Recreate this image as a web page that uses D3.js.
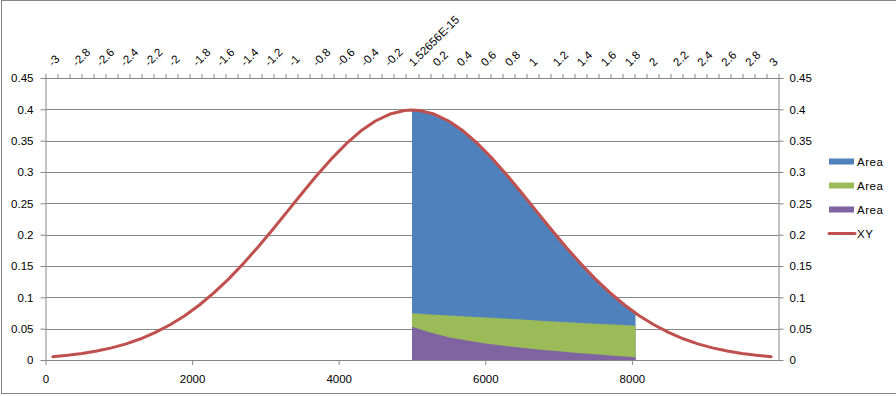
<!DOCTYPE html>
<html lang="en">
<head>
	<meta charset="UTF-8">
	<title>Normal curve with areas</title>
	<script src="https://cdnjs.cloudflare.com/ajax/libs/d3/7.8.5/d3.min.js"></script>
	<style>
		*{
			padding: 0;
			margin: 0;
		}
		body{
			background: #fff;
		}
		text{
			font-family: "Liberation Sans", Arial, sans-serif;
			font-size: 11.5px;
			fill: #000;
		}
		.grid line{
			stroke: #868686;
			stroke-width: 1;
		}
		.axis path,.axis line{
			stroke: #868686;
			stroke-width: 1;
			fill: none;
		}
	</style>
</head>
<body>
	<div id="container"></div>
<script>
	// XY series (bottom value axis)
	var lineX=[100,300,500,700,900,1100,1300,1500,1700,1900,2100,2300,2500,2700,2900,3100,3300,3500,3700,3900,4100,4300,4500,4700,4900,
		5000,5100,5300,5500,5700,5900,6100,6300,6500,6700,6900,7100,7300,7500,7700,7900,8100,8300,8500,8700,8900,9100,9300,9500,9700,9900]
	var lineY=[0.0053,0.0075,0.0104,0.0143,0.0194,0.0258,0.0339,0.0440,0.0562,0.0707,0.0878,0.1074,0.1295,0.1540,0.1804,0.2083,0.2371,0.2661,0.2943,0.3209,0.3448,0.3653,0.3814,0.3925,0.3982,
		0.3989,0.3982,0.3925,0.3814,0.3653,0.3448,0.3209,0.2943,0.2661,0.2371,0.2083,0.1804,0.1540,0.1295,0.1074,0.0878,0.0707,0.0562,0.0440,0.0339,0.0258,0.0194,0.0143,0.0104,0.0075,0.0053]

	// the three area series
	var areaX=[5000,5250,5500,5750,6000,6250,6500,6750,7000,7250,7500,7750,8000,8050]
	var blueArea=[0.3989,0.3945,0.3814,0.3605,0.3332,0.3011,0.2661,0.2299,0.1942,0.1604,0.1295,0.1023,0.0790,0.0748]
	var greenArea=[0.0745,0.0728,0.0712,0.0696,0.0680,0.0663,0.0645,0.0627,0.0610,0.0595,0.0580,0.0565,0.0551,0.0545]
	var purpleArea=[0.0530,0.0440,0.0365,0.0310,0.0265,0.0228,0.0195,0.0165,0.0138,0.0113,0.0090,0.0068,0.0047,0.0042]

	// tick labels
	var topLabels=['-3','-2.8','-2.6','-2.4','-2.2','-2','-1.8','-1.6','-1.4','-1.2','-1','-0.8','-0.6','-0.4','-0.2',
		'1.52656E-15','0.2','0.4','0.6','0.8','1','1.2','1.4','1.6','1.8','2','2.2','2.4','2.6','2.8','3']
	var bottomTicks=[0,2000,4000,6000,8000]
	var yTicks=[0,0.05,0.1,0.15,0.2,0.25,0.3,0.35,0.4,0.45]
	var legendNames=['Area','Area','Area','XY']

	var colors=['#4f81bd','#9bbb59','#8064a2','#c0504d']

	var width=896,
	height=396,
	margin={left:45.5,top:78,right:117.5,bottom:36},
	g_width=width-margin.left-margin.right,
	g_height=height-margin.top-margin.bottom

	var svg=d3.select('#container')
	.append('svg')
	.attr('width',width)
	.attr('height',height)

	// chart frame
	svg.append('rect')
	.attr('x',1.5)
	.attr('y',0.5)
	.attr('width',width+10)
	.attr('height',393)
	.attr('fill','none')
	.attr('stroke','#868686')

	var g=svg.append('g')
	.attr('transform','translate('+margin.left+','+margin.top+')')

	var scale_x=d3.scaleLinear()
	.domain([0,10000])
	.range([0,g_width])
	var scale_y=d3.scaleLinear()
	.domain([0,0.45])
	.range([g_height,0])
	var scale_top=d3.scaleBand()
	.domain(d3.range(topLabels.length*2-1))
	.range([0,g_width])

	// gridlines
	g.append('g')
	.attr('class','grid')
	.selectAll('line')
	.data(yTicks)
	.enter().append('line')
	.attr('x1',0)
	.attr('x2',g_width)
	.attr('y1',function(d){return Math.round(scale_y(d))+0.5})
	.attr('y2',function(d){return Math.round(scale_y(d))+0.5})

	// areas, back to front
	var areaSeries=[blueArea,greenArea,purpleArea]
	areaSeries.forEach(function(vals,k){
		var area_generator=d3.area()
		.x(function(d,i){return scale_x(areaX[i])})
		.y0(scale_y(0))
		.y1(function(d){return scale_y(d)})
		g.append('path')
		.attr('d',area_generator(vals))
		.attr('fill',colors[k])
	})

	// XY line
	var line_generator=d3.line()
	.x(function(d,i){return scale_x(lineX[i])})
	.y(function(d){return scale_y(d)})
	g.append('path')
	.attr('d',line_generator(lineY))
	.attr('fill','none')
	.attr('stroke',colors[3])
	.attr('stroke-width',3)
	.attr('stroke-linejoin','round')
	.attr('stroke-linecap','round')

	// axes
	var fmt=d3.format('')
	g.append('g')
	.attr('class','axis')
	.call(d3.axisLeft(scale_y).tickValues(yTicks).tickFormat(fmt).tickSize(5).tickSizeOuter(0).tickPadding(7))

	g.append('g')
	.attr('class','axis')
	.attr('transform','translate('+g_width+',0)')
	.call(d3.axisRight(scale_y).tickValues(yTicks).tickFormat(fmt).tickSize(5).tickSizeOuter(0).tickPadding(6))

	g.append('g')
	.attr('class','axis')
	.attr('transform','translate(0,'+g_height+')')
	.call(d3.axisBottom(scale_x).tickValues(bottomTicks).tickFormat(fmt).tickSize(5).tickSizeOuter(0).tickPadding(10))

	// top category axis: ticks between categories, every second label shown
	var top_axis=g.append('g').attr('class','axis')
	top_axis.append('line')
	.attr('x1',0)
	.attr('x2',g_width)
	.attr('y1',0.5)
	.attr('y2',0.5)
	var bounds=scale_top.domain().map(function(d){return scale_top(d)}).concat([g_width])
	top_axis.selectAll('line.tick')
	.data(bounds)
	.enter().append('line')
	.attr('class','tick')
	.attr('x1',function(d){return Math.round(d)+0.5})
	.attr('x2',function(d){return Math.round(d)+0.5})
	.attr('y1',0)
	.attr('y2',-4)
	top_axis.selectAll('text')
	.data(topLabels)
	.enter().append('text')
	.text(function(d){return d})
	.attr('text-anchor','start')
	.attr('transform',function(d,i){
		var x=scale_top(i*2)+scale_top.bandwidth()/2
		return 'translate('+(x+1.5)+',-11) rotate(-45)'
	})

	// legend
	var legend=svg.append('g')
	.attr('transform','translate(828,161.5)')
	var item=legend.selectAll('g')
	.data(legendNames)
	.enter().append('g')
	.attr('transform',function(d,i){return 'translate(0,'+(i*24)+')'})
	item.filter(function(d,i){return i<3})
	.append('rect')
	.attr('x',1)
	.attr('y',-3)
	.attr('width',25)
	.attr('height',6)
	.attr('fill',function(d,i){return colors[i]})
	item.filter(function(d,i){return i==3})
	.append('line')
	.attr('x1',1)
	.attr('x2',27)
	.attr('stroke',colors[3])
	.attr('stroke-width',3)
	.attr('stroke-linecap','round')
	item.append('text')
	.text(function(d){return d})
	.attr('x',29)
	.attr('dy','0.35em')
	.attr('letter-spacing','0.5px')
</script>
</body>
</html>
